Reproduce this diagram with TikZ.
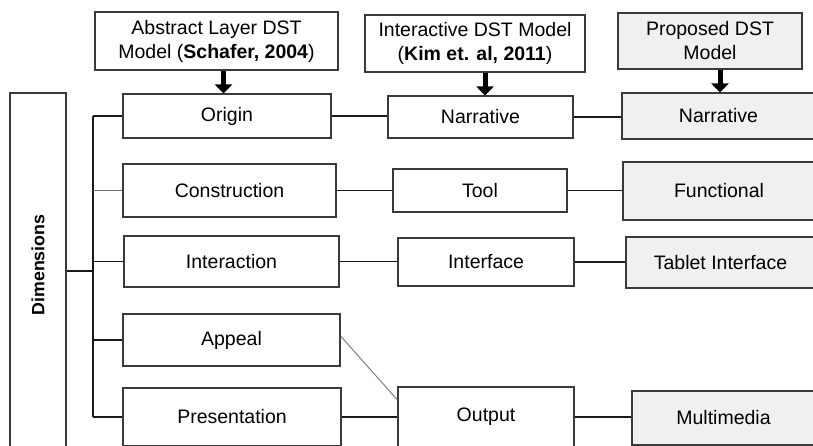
\documentclass[tikz,border=0pt]{standalone}
\usepackage{fontspec}
\setmainfont{Liberation Sans}
\usetikzlibrary{arrows.meta}
\definecolor{boxline}{HTML}{3A3A3A}
\definecolor{propfill}{HTML}{F0F0F0}
\tikzset{
  box/.style={draw=boxline, line width=1.1pt, fill=white, inner sep=0pt, align=center,
    font=\fontsize{19.5}{24}\selectfont},
  pbox/.style={box, fill=propfill},
  conn/.style={draw=black!90, line width=1.9pt},
  thinconn/.style={draw=black!55, line width=0.9pt},
  bigarrow/.style={draw=black, line width=5pt, -{Triangle[width=17pt,length=9pt]}},
}
\begin{document}
\begin{tikzpicture}[x=1pt,y=-1pt]
\useasboundingbox (0,0) rectangle (813,446);
\clip (0,0) rectangle (813,446);
% top model boxes
\node[box, minimum width=243, minimum height=58] (abs) at (216.5,41) {Abstract Layer DST\\Model (\textbf{Schafer, 2004})};
\node[box, minimum width=220, minimum height=57] (inter) at (475,43.5) {Interactive DST Model\\(\textbf{Kim et. al, 2011})};
\node[pbox, minimum width=184, minimum height=56] (prop) at (710,41) {Proposed DST\\Model};
% dimensions
\node[box, minimum width=56, minimum height=380] (dim) at (38,283) {};
\node[rotate=90, font=\fontsize{17.8}{20}\selectfont\bfseries] (dimtext) at (38,265) {Dimensions};
% column 1
\node[box, minimum width=208, minimum height=44] (origin) at (227,116) {Origin};
\node[box, minimum width=213, minimum height=53] (cons) at (229.5,190.5) {Construction};
\node[box, minimum width=215, minimum height=51] (inta) at (231.5,261.5) {Interaction};
\node[box, minimum width=217, minimum height=52] (appeal) at (231.5,340) {Appeal};
\node[box, minimum width=218, minimum height=58] (pres) at (232,417) {Presentation};
% column 2
\node[box, minimum width=185, minimum height=42] (narr1) at (480.5,117) {Narrative};
\node[box, minimum width=174, minimum height=43] (tool) at (480,190.5) {Tool};
\node[box, minimum width=176, minimum height=48] (iface) at (486,262) {Interface};
\node[box, minimum width=176, minimum height=60] (output) at (486,417) {Output};
% column 3
\node[pbox, minimum width=193, minimum height=46] (narr2) at (718.5,116) {Narrative};
\node[pbox, minimum width=192, minimum height=58] (func) at (719,191) {Functional};
\node[pbox, minimum width=189, minimum height=51] (tablet) at (720.5,262.5) {Tablet Interface};
\node[pbox, minimum width=183, minimum height=54] (multi) at (723.5,418) {Multimedia};
% arrows
\draw[bigarrow] ([xshift=7pt]abs.south) -- ([xshift=7pt]abs.south |- origin.north);
\draw[bigarrow] ([xshift=10pt]inter.south) -- ([xshift=10pt]inter.south |- narr1.north);
\draw[bigarrow] ([xshift=10pt]prop.south) -- ([xshift=10pt]prop.south |- narr2.north);
% tree
\coordinate (tx) at (93,0);
\coordinate (tj) at (93,271);
\draw[conn] (dim.east |- tj) -- (tj);
\draw[conn] (tx |- origin.west) -- (tx |- pres.west);
\draw[conn] (tx |- origin.west) -- (origin.west);
\draw[thinconn] (tx |- cons.west) -- (cons.west);
\draw[conn, line width=1.2pt] (tx |- inta.west) -- (inta.west);
\draw[conn] (tx |- appeal.west) -- (appeal.west);
\draw[conn] (tx |- pres.west) -- (pres.west);
% row connectors
\draw[conn] (origin.east) -- (origin.east -| narr1.west);
\draw[conn] (narr1.east) -- (narr1.east -| narr2.west);
\draw[conn] (cons.east) -- (cons.east -| tool.west);
\draw[conn] (tool.east) -- (tool.east -| func.west);
\draw[conn] (inta.east) -- (inta.east -| iface.west);
\draw[conn] (iface.east) -- (iface.east -| tablet.west);
\draw[conn] (pres.east) -- (pres.east -| output.west);
\draw[conn, line width=1.3pt] (output.east) -- (output.east -| multi.west);
\draw[thinconn] ([yshift=4pt]appeal.east) -- ([yshift=17pt]output.west);
\end{tikzpicture}
\end{document}
